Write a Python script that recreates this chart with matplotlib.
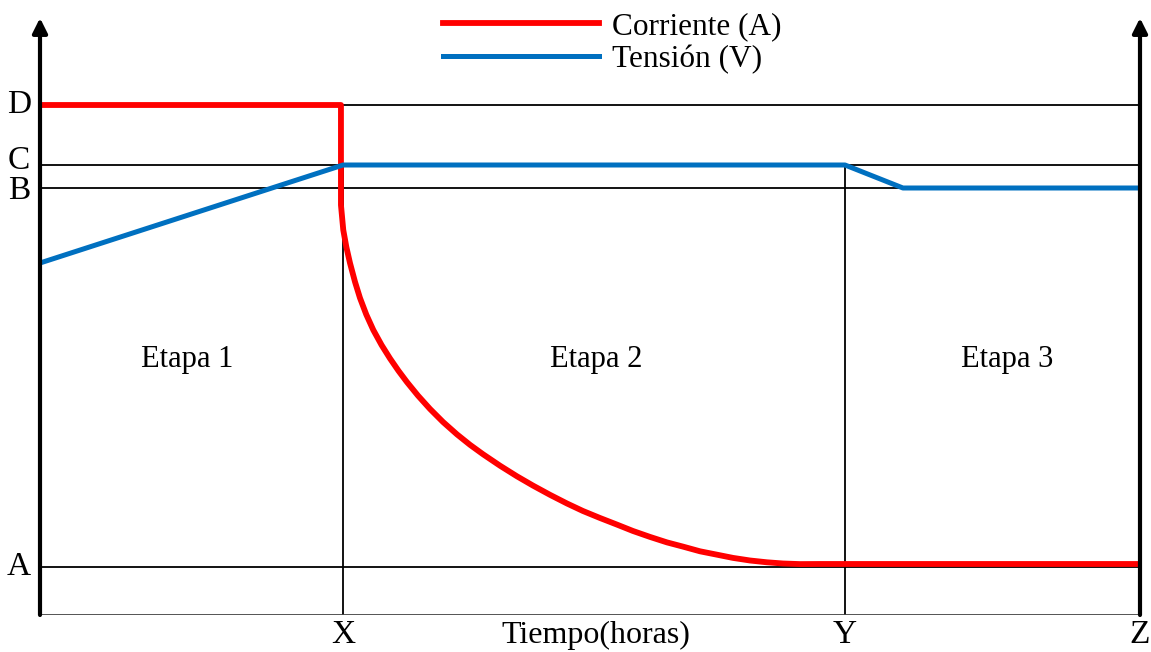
import matplotlib
matplotlib.use("Agg")
import matplotlib.pyplot as plt

plt.rcParams["font.family"] = ["Liberation Serif", "DejaVu Serif"]

# -----------------------------
# Data (time in arbitrary hours, levels in arbitrary units)
# -----------------------------
t_x, t_y, t_z = 2.755, 7.318, 10.0
level_a, level_b, level_c, level_d = 0.48, 4.27, 4.50, 5.10
y_top = 5.97

# Corriente (A)
current_t = [0.0, 2.736, 2.736, 2.736, 2.757, 2.785, 2.818, 2.864, 2.909, 2.966,
             3.030, 3.105, 3.182, 3.259, 3.336, 3.436, 3.545, 3.664, 3.791,
             3.909, 4.027, 4.182, 4.336, 4.482, 4.636, 4.791, 4.936, 5.091,
             5.245, 5.391, 5.545, 5.700, 5.845, 6.000, 6.155, 6.300, 6.455,
             6.609, 6.755, 6.909, 7.091, 10.0]
current_v = [5.10, 5.10, 4.35, 4.10, 3.85, 3.68, 3.52, 3.33, 3.17, 3.005,
             2.85, 2.70, 2.565, 2.442, 2.329, 2.194, 2.061, 1.93, 1.806,
             1.702, 1.608, 1.493, 1.387, 1.294, 1.202, 1.115, 1.04, 0.97,
             0.904, 0.84, 0.781, 0.726, 0.684, 0.637, 0.603, 0.571, 0.545,
             0.527, 0.515, 0.509, 0.51, 0.51]

# Tensión (V)
voltage_t = [0.0, 2.755, 7.318, 7.845, 10.0]
voltage_v = [3.52, 4.50, 4.50, 4.27, 4.27]

level_labels = ["A", "B", "C", "D"]
level_values = [level_a, level_b, level_c, level_d]
time_labels = ["X", "Y", "Z"]
time_values = [t_x, t_y, t_z]
stage_labels = ["Etapa 1", "Etapa 2", "Etapa 3"]
stage_centers = [1.34, 5.06, 8.79]

# -----------------------------
# Figure
# -----------------------------
fig = plt.figure(figsize=(11.51, 6.52), dpi=100)
ax = fig.add_axes([40 / 1151, 37 / 652, 1100 / 1151, 615 / 652])
ax.set_xlim(0, 10)
ax.set_ylim(0, 6.15)
ax.axis("off")

# reference lines
for lv in level_values:
    ax.plot([0, t_z], [lv, lv], color="black", lw=1.3, zorder=1)
for tv in [t_x, t_y]:
    ax.plot([tv, tv], [0, level_c], color="black", lw=1.3, zorder=1)
ax.plot([0, t_z], [0, 0], color="#444444", lw=2, zorder=1)

# arrows (axes)
for xv in [0, t_z]:
    ax.annotate("", xy=(xv, y_top), xytext=(xv, 0),
                arrowprops=dict(arrowstyle="-|>", color="black", lw=3,
                                mutation_scale=22, shrinkA=0, shrinkB=0),
                annotation_clip=False, zorder=5)

# series
ax.plot(current_t, current_v, color="#ff0000", lw=4.2, label="Corriente (A)",
        solid_joinstyle="round", zorder=3)
ax.plot(voltage_t, voltage_v, color="#0070c0", lw=3.6, label="Tensión (V)",
        solid_joinstyle="round", zorder=3)

# labels
label_y_offset = {"A": 0.0, "B": -0.03, "C": 0.04, "D": 0.0}
for lab, lv in zip(level_labels, level_values):
    ax.text(-0.19, lv + label_y_offset[lab], lab, fontsize=24, ha="center",
            va="center", clip_on=False)
for lab, tv in zip(time_labels, time_values):
    ax.text(tv, -0.2, lab, fontsize=24, ha="center", va="center", clip_on=False)
ax.text(5.05, -0.2, "Tiempo(horas)", fontsize=23, ha="center", va="center",
        clip_on=False)
for lab, xc in zip(stage_labels, stage_centers):
    ax.text(xc, 2.55, lab, fontsize=22, ha="center", va="center")

fig.legend(loc="upper left", bbox_to_anchor=(443 / 1151, 1 - 12 / 652),
           frameon=False, fontsize=22.5, handlelength=5.0, handletextpad=0.4,
           labelspacing=0.12, borderpad=0, borderaxespad=0)

fig.savefig("out.png", dpi=100, facecolor="white")
